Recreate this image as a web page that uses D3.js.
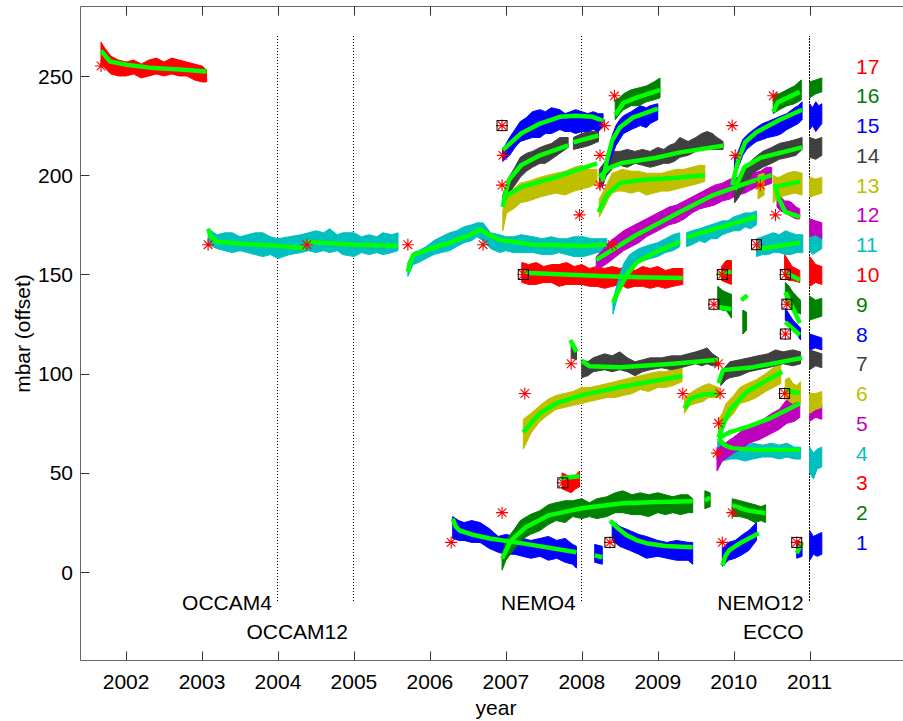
<!DOCTYPE html>
<html><head><meta charset="utf-8">
<script src="https://cdn.jsdelivr.net/npm/d3@7"></script>
<style>
html,body{margin:0;padding:0;background:#fff;}
svg text{font-family:"Liberation Sans",Arial,Helvetica,sans-serif;}
</style></head>
<body><svg id="c" width="903" height="721"></svg>
<script>
// ---------------- data ----------------
const years = [2002,2003,2004,2005,2006,2007,2008,2009,2010,2011];
const yTicks = [0,50,100,150,200,250];
const seriesNums = [1,2,3,4,5,6,7,8,9,10,11,12,13,14,15,16,17];
const seriesColors = ["#0000ff","#008000","#ff0000","#00bfbf","#bf00bf","#bfbf00","#404040"];
const models = ["OCCAM4","OCCAM12","NEMO4","NEMO12","ECCO"];
const modelYears = [2004,2005,2008,2011,2011];
const modelRows = [0,1,0,0,1];

// traces: segments of [year, low, high]
const trace1 = [
 [[2006.3,17,28],[2006.38,16,26],[2006.45,16,25],[2006.55,15,26],[2006.66,15,25],[2006.78,12,22],[2006.9,10,18],[2007.0,9,19],[2007.12,9,18],[2007.22,8,17],[2007.33,7,16],[2007.45,8,17],[2007.56,6,18],[2007.67,7,16],[2007.78,5,17],[2007.88,4,14],[2007.93,2,13]],
 [[2008.17,5,14],[2008.27,4,13]],
 [[2008.4,16,26],[2008.5,13,23],[2008.63,11,21],[2008.75,9,19],[2008.85,7,18],[2009.0,8,16],[2009.12,7,15],[2009.25,6,16],[2009.4,6,15],[2009.46,4,15]],
 [[2009.85,3,12],[2009.93,6,15],[2010.02,7,16],[2010.12,9,19],[2010.2,11,21],[2010.3,16,25]],
 [[2010.83,7,16],[2010.9,8,15]],
 [[2011.0,6,21],[2011.05,9,18],[2011.1,8,19],[2011.16,9,20]]
];
const trace2 = [
 [[2006.95,1,8],[2007.0,6,16],[2007.1,11,21],[2007.19,16,26],[2007.32,19,29],[2007.45,21,31],[2007.56,24,34],[2007.66,26,35],[2007.78,25,36],[2007.88,28,36],[2008.0,27,37],[2008.1,28,35],[2008.2,27,37],[2008.33,28,38],[2008.44,30,40],[2008.54,30,41],[2008.66,29,39],[2008.77,29,40],[2008.88,28,39],[2009.0,30,40],[2009.1,29,39],[2009.2,30,38],[2009.3,29,39],[2009.4,30,39],[2009.46,30,37]],
 [[2009.62,32,41],[2009.69,33,40]],
 [[2009.98,28,37],[2010.08,28,36],[2010.18,27,35],[2010.28,25,34],[2010.36,26,33],[2010.42,25,34]]
];
const trace3 = [
 [[2007.74,42,50],[2007.8,41,49],[2007.86,40,48],[2007.92,42,49],[2007.97,43,51]]
];
const trace4 = [
 [[2009.79,55,66],[2009.85,56,65],[2009.95,57,64],[2010.05,57,63],[2010.15,56,64],[2010.25,57,65],[2010.38,58,64],[2010.5,58,65],[2010.6,57,64],[2010.7,58,65],[2010.8,57,63],[2010.88,57,63]],
 [[2011.0,50,63],[2011.05,47,60],[2011.1,52,62],[2011.16,53,63]]
];
const trace5 = [
 [[2009.78,51,62],[2009.85,56,64],[2010.0,60,68],[2010.1,62,71],[2010.2,65,73],[2010.35,67,76],[2010.5,70,80],[2010.6,72,82],[2010.7,75,87],[2010.8,76,86],[2010.87,78,88]],
 [[2011.0,76,84],[2011.08,78,85],[2011.16,77,84]]
];
const trace6 = [
 [[2007.23,62,77],[2007.33,70,80],[2007.45,76,84],[2007.55,79,87],[2007.66,82,89],[2007.77,83,90],[2007.88,84,91],[2008.0,85,93],[2008.1,86,93],[2008.22,87,94],[2008.33,88,95],[2008.44,88,96],[2008.54,89,97],[2008.66,90,98],[2008.77,92,99],[2008.88,91,100],[2009.0,93,101],[2009.1,93,101],[2009.2,94,102],[2009.32,96,103]],
 [[2009.35,80,88],[2009.42,84,90],[2009.5,85,92],[2009.6,86,94],[2009.67,88,95],[2009.8,88,93]],
 [[2009.8,67,77],[2009.85,72,80],[2009.9,76,85],[2010.0,80,89],[2010.08,85,93],[2010.18,86,95],[2010.3,88,97],[2010.42,91,100],[2010.52,93,103],[2010.62,95,105]],
 [[2010.68,88,97],[2010.73,86,98],[2010.78,85,95],[2010.83,86,94],[2010.88,85,96]],
 [[2011.0,80,90],[2011.08,82,90],[2011.16,83,91]]
];
const trace7 = [
 [[2007.86,108,117],[2007.93,107,113]],
 [[2008.0,98,107],[2008.08,99,106],[2008.15,101,108],[2008.3,102,110],[2008.4,101,109],[2008.5,102,111],[2008.6,101,108],[2008.7,99,106],[2008.8,101,107],[2008.9,102,108],[2009.05,103,108],[2009.18,102,109],[2009.3,103,109],[2009.4,104,110],[2009.5,105,111],[2009.58,104,112],[2009.65,105,113],[2009.72,104,110],[2009.8,104,108]],
 [[2009.83,94,100],[2009.9,97,104],[2009.95,98,106],[2010.08,99,107],[2010.2,101,108],[2010.32,102,109],[2010.45,103,110],[2010.55,104,112],[2010.65,105,111],[2010.78,104,112],[2010.88,105,111]],
 [[2011.0,102,112],[2011.08,104,111],[2011.16,103,110]]
];
const trace8 = [
 [[2010.68,127,133],[2010.73,124,130],[2010.78,122,127],[2010.83,120,125],[2010.88,117,123]],
 [[2011.0,112,120],[2011.08,113,119],[2011.16,112,118]]
];
const trace9 = [
 [[2009.79,133,144],[2009.85,132,142],[2009.9,132,141],[2009.97,128,140]],
 [[2010.12,120,132],[2010.17,122,131]],
 [[2010.68,137,146],[2010.73,134,144],[2010.78,132,141],[2010.83,131,139],[2010.88,130,137]],
 [[2011.0,127,139],[2011.08,128,137],[2011.16,129,138]]
];
const trace10 = [
 [[2007.21,146,156],[2007.3,145,155],[2007.4,145,156],[2007.5,146,154],[2007.6,146,155],[2007.7,144,155],[2007.8,145,156],[2007.9,145,154],[2008.0,145,155],[2008.1,144,153],[2008.2,144,154],[2008.3,143,153],[2008.4,144,154],[2008.5,145,153],[2008.6,143,154],[2008.7,144,152],[2008.8,144,154],[2008.9,143,153],[2009.0,144,154],[2009.1,143,152],[2009.2,144,153],[2009.33,145,153]],
 [[2009.84,147,154],[2009.9,146,157],[2009.97,145,157]],
 [[2010.67,149,160],[2010.72,147,157],[2010.77,147,154],[2010.87,146,152]],
 [[2011.0,144,159],[2011.08,146,155],[2011.16,145,154]]
];
const trace11 = [
 [[2003.08,165,173],[2003.2,163,170],[2003.3,162,171],[2003.4,161,171],[2003.5,162,169],[2003.6,161,170],[2003.7,160,171],[2003.8,159,171],[2003.9,160,169],[2004.0,158,168],[2004.15,160,169],[2004.3,161,170],[2004.4,162,171],[2004.5,161,172],[2004.6,162,171],[2004.68,161,173],[2004.78,162,170],[2004.85,160,171],[2005.0,159,171],[2005.1,161,169],[2005.2,160,170],[2005.3,161,169],[2005.38,160,171],[2005.5,161,170],[2005.58,162,171]],
 [[2005.71,149,156],[2005.78,155,161],[2005.85,156,162],[2005.95,158,164],[2006.05,160,167],[2006.15,161,169],[2006.26,162,171],[2006.35,164,172],[2006.45,166,174],[2006.55,167,175],[2006.62,169,176],[2006.7,167,176],[2006.8,163,171],[2006.92,161,170],[2007.0,162,169],[2007.1,161,169],[2007.2,161,170],[2007.36,161,169],[2007.48,160,168],[2007.6,160,169],[2007.7,161,168],[2007.8,160,168],[2007.9,159,169],[2008.02,159,169],[2008.12,160,168],[2008.2,161,168],[2008.33,161,168]],
 [[2008.41,130,137],[2008.5,143,150],[2008.56,149,156],[2008.63,153,160],[2008.75,156,163],[2008.9,158,165],[2009.0,159,166],[2009.1,161,168],[2009.2,162,170],[2009.29,164,171]],
 [[2009.38,164,171],[2009.45,165,172],[2009.55,167,173],[2009.62,166,174],[2009.7,168,175],[2009.78,168,176],[2009.85,170,177],[2009.92,171,177],[2010.0,172,179],[2010.08,172,180],[2010.15,174,181],[2010.22,173,181],[2010.3,175,182]],
 [[2010.3,159,168],[2010.38,160,169],[2010.45,160,170],[2010.52,161,171],[2010.6,161,170],[2010.68,160,172],[2010.75,160,171],[2010.83,161,170],[2010.91,161,170]],
 [[2011.0,162,171],[2011.04,160,170],[2011.08,161,170],[2011.12,162,172],[2011.16,163,171]]
];
const trace12 = [
 [[2008.19,153,159],[2008.27,154,162],[2008.35,156,166],[2008.45,159,169],[2008.55,162,172],[2008.65,164,174],[2008.75,166,176],[2008.85,169,178],[2008.95,171,180],[2009.05,173,182],[2009.15,175,184],[2009.25,176,185],[2009.35,178,187],[2009.45,181,189],[2009.55,183,191],[2009.65,184,193],[2009.75,185,195],[2009.85,187,196],[2009.95,188,198],[2010.05,190,199],[2010.15,191,200],[2010.25,193,201],[2010.35,195,202],[2010.43,195,204],[2010.5,196,204]],
 [[2010.57,184,192],[2010.62,182,189],[2010.67,181,187],[2010.72,180,187],[2010.77,179,186],[2010.82,178,184],[2010.87,178,183]],
 [[2011.0,169,178],[2011.08,170,177],[2011.16,168,176]]
];
const trace13 = [
 [[2006.96,172,182],[2007.01,181,191],[2007.1,183,193],[2007.19,186,196],[2007.3,187,197],[2007.45,189,199],[2007.55,190,200],[2007.66,191,201],[2007.78,190,202],[2007.9,192,204],[2008.0,193,205],[2008.1,194,203],[2008.2,196,203]],
 [[2008.23,179,188],[2008.3,184,193],[2008.35,188,197],[2008.4,191,201],[2008.47,192,202],[2008.53,192,203],[2008.65,191,202],[2008.75,192,202],[2008.85,190,201],[2008.95,191,201],[2009.05,192,201],[2009.15,192,202],[2009.25,193,203],[2009.35,194,203],[2009.45,195,204],[2009.55,196,205],[2009.62,197,205]],
 [[2010.32,188,200],[2010.4,190,201]],
 [[2010.52,186,200],[2010.56,188,199],[2010.6,189,199],[2010.7,190,201],[2010.8,191,202],[2010.9,190,201]],
 [[2011.0,189,199],[2011.08,190,198],[2011.16,191,199]]
];
const trace14 = [
 [[2006.96,184,190],[2007.04,191,199],[2007.12,195,204],[2007.19,199,209],[2007.27,202,211],[2007.35,204,212],[2007.45,206,214],[2007.52,206,215],[2007.6,208,216],[2007.71,211,219],[2007.82,214,219]],
 [[2007.89,213,219],[2008.0,214,221],[2008.1,215,222],[2008.22,217,222]],
 [[2008.23,193,203],[2008.33,200,208],[2008.42,204,212],[2008.5,205,212],[2008.6,204,213],[2008.7,206,212],[2008.8,205,213],[2008.9,204,212],[2009.0,205,214],[2009.08,206,213],[2009.15,206,215],[2009.22,207,216],[2009.29,209,219],[2009.4,210,217],[2009.5,212,219],[2009.58,213,221],[2009.65,214,222],[2009.72,213,221],[2009.78,213,219],[2009.86,213,217]],
 [[2010.01,186,193],[2010.05,188,196],[2010.1,191,199],[2010.17,196,204],[2010.25,201,208],[2010.38,204,212],[2010.5,206,214],[2010.6,208,216],[2010.72,209,217],[2010.82,210,218],[2010.9,213,219]],
 [[2011.0,209,219],[2011.08,208,218],[2011.16,210,219]]
];
const trace15 = [
 [[2006.96,207,213],[2007.05,210,219],[2007.12,214,223],[2007.19,217,227],[2007.27,218,229],[2007.35,219,232],[2007.45,219,233],[2007.52,221,232],[2007.6,221,234],[2007.71,223,233],[2007.78,222,231],[2007.85,222,232],[2007.92,221,233],[2008.0,222,232],[2008.08,222,231],[2008.15,223,232],[2008.22,222,231],[2008.28,225,231]],
 [[2008.27,194,203],[2008.32,200,208],[2008.36,206,214],[2008.4,210,220],[2008.45,215,225],[2008.5,218,228],[2008.55,221,230],[2008.65,223,232],[2008.77,225,235],[2008.85,224,234],[2008.9,226,235],[2009.0,228,236]],
 [[2010.01,201,209],[2010.05,203,211],[2010.08,206,214],[2010.12,210,218],[2010.17,213,220],[2010.23,215,222],[2010.3,217,224],[2010.38,218,226],[2010.45,219,227],[2010.57,220,229],[2010.63,221,230],[2010.7,223,231],[2010.8,225,234],[2010.85,226,235],[2010.9,228,237]],
 [[2011.0,223,236],[2011.04,225,234],[2011.08,222,237],[2011.12,224,235],[2011.16,226,236]]
];
const trace16 = [
 [[2008.44,228,238],[2008.5,231,239],[2008.55,233,241],[2008.65,235,243],[2008.75,235,244],[2008.85,237,245],[2008.95,238,247],[2009.03,239,249]],
 [[2010.52,231,240],[2010.56,232,241],[2010.6,233,241],[2010.7,235,243],[2010.8,236,245],[2010.89,238,248]],
 [[2011.0,239,247],[2011.08,241,248],[2011.16,242,249]]
];
const trace17 = [
 [[2001.67,256,267],[2001.72,254,264],[2001.8,251,260],[2001.9,250,258],[2002.0,250,257],[2002.1,251,258],[2002.2,249,256],[2002.3,250,258],[2002.4,251,259],[2002.5,250,257],[2002.6,251,259],[2002.7,250,258],[2002.8,250,257],[2002.9,248,256],[2003.0,247,255],[2003.06,247,253]]
];

// fitted curves: segments of [year, value]
const fit1 = [
 [[2006.3,27],[2006.34,23],[2006.39,21],[2006.55,19],[2006.79,17],[2007.22,14.5],[2007.93,10]],
 [[2008.17,8.5],[2008.27,7.5]],
 [[2008.37,26],[2008.48,22],[2008.59,18.6],[2008.72,16.2],[2008.85,14.6],[2009.1,13.2],[2009.46,12.5]],
 [[2009.85,3.4],[2009.89,8],[2009.94,11],[2010.1,15],[2010.33,19.6]],
 [[2010.83,9.5],[2010.9,15]]
];
const fit2 = [
 [[2006.95,6.9],[2007.07,16],[2007.26,22.6],[2007.56,28.6],[2008.0,32.2],[2008.54,34.7],[2009.0,35.3],[2009.46,35.7]],
 [[2009.62,36],[2009.69,37.7]],
 [[2009.98,33.7],[2010.18,31.2],[2010.42,29.7]]
];
const fit3 = [[[2007.72,47.3],[2007.97,48.3]]];
const fit4 = [[[2009.8,67.5],[2009.88,64],[2009.98,62.5],[2010.3,61.5],[2010.87,61.5]]];
const fit5 = [[[2009.8,67.5],[2009.95,70.6],[2010.2,73.5],[2010.48,77.5],[2010.87,85]]];
const fit6 = [
 [[2007.23,70.5],[2007.35,76],[2007.45,80],[2007.66,85],[2008.0,89.2],[2008.5,93.3],[2009.32,98.8]],
 [[2009.35,82.6],[2009.44,87.7],[2009.6,89.5],[2009.82,90]],
 [[2009.8,68],[2009.88,76],[2009.95,81.6],[2010.17,90.8],[2010.4,96],[2010.64,101]],
 [[2010.67,91.7],[2010.87,90.2]]
];
const fit7 = [
 [[2007.85,117],[2007.93,111]],
 [[2008.0,106.5],[2008.1,103.8],[2008.5,103.2],[2009.2,105],[2009.8,107]],
 [[2009.8,95.3],[2009.86,101.8],[2010.25,103.3],[2010.9,107.9]]
];
const fit8 = [[[2010.68,126],[2010.87,119.5]]];
const fit9 = [
 [[2009.8,133.6],[2009.97,132.5]],
 [[2010.1,137],[2010.18,139.5]],
 [[2010.68,141],[2010.87,125.5]]
];
const fit10 = [
 [[2007.23,150.8],[2008.24,149.2],[2008.75,148.6],[2009.33,148.2]],
 [[2009.8,150],[2009.97,151.4]],
 [[2010.67,151.3],[2010.87,147.2]]
];
const fit11 = [
 [[2003.08,173],[2003.12,169],[2003.19,166.5],[2003.5,165.5],[2004.0,164.4],[2004.36,163.2]],
 [[2004.36,166.5],[2005.0,165],[2005.58,164.4]],
 [[2005.71,151.3],[2005.74,156],[2005.78,159.8],[2005.96,162.4],[2006.26,166],[2006.5,169.5],[2006.66,172.6],[2006.8,169.5],[2006.92,167.4],[2007.36,165],[2008.02,164.4],[2008.33,165]],
 [[2008.41,136],[2008.5,143],[2008.59,149.6],[2008.72,156],[2008.98,161.4],[2009.29,166.5]],
 [[2009.38,168.8],[2009.8,173.5],[2010.3,179]],
 [[2010.32,162.8],[2010.87,166]]
];
const fit12 = [
 [[2008.19,157.3],[2008.7,169.5],[2009.29,181.5],[2009.73,190],[2010.17,196],[2010.5,200]],
 [[2010.55,194],[2010.6,187.6],[2010.68,181.5],[2010.87,179]]
];
const fit13 = [
 [[2006.96,188.6],[2007.2,194],[2007.66,199],[2008.2,206]],
 [[2008.22,181.4],[2008.33,190],[2008.5,196],[2008.77,197.6],[2009.2,198.6],[2009.62,200]],
 [[2010.52,194],[2010.87,196.7]]
];
const fit14 = [
 [[2006.96,184],[2007.0,192],[2007.04,197.6],[2007.2,205],[2007.45,210],[2007.82,215]],
 [[2007.89,216.6],[2008.22,220]],
 [[2008.23,199],[2008.36,203.7],[2008.53,206.2],[2008.98,208.8],[2009.29,211.5],[2009.86,214.8]],
 [[2010.01,192.6],[2010.14,204],[2010.35,208.8],[2010.9,214]]
];
const fit15 = [
 [[2006.96,212.7],[2007.2,221],[2007.45,226],[2007.71,229.4],[2007.92,230],[2008.14,229.4],[2008.28,227.5]],
 [[2008.27,196.6],[2008.34,209],[2008.4,217.5],[2008.5,224],[2008.67,229],[2009.0,233.5]],
 [[2009.98,195],[2010.06,207.7],[2010.15,216.6],[2010.3,221.7],[2010.6,227.8],[2010.9,233]]
];
const fit16 = [
 [[2008.44,230.4],[2008.55,236.5],[2008.75,239.5],[2009.03,243]],
 [[2010.52,232],[2010.58,236.7],[2010.87,242]]
];
const fit17 = [[[2001.67,262.7],[2001.79,257.3],[2002.0,255.7],[2002.31,254.2],[2002.71,253.2],[2003.06,252.2]]];

// markers: [year, value]
const asterisks = [[2001.67,255],[2003.08,165],[2004.38,165],[2005.71,165],[2006.7,165],[2006.28,15],[2006.95,30],[2006.96,210],[2006.95,195],[2007.25,90],[2007.86,105],[2007.97,180],[2008.3,225],[2008.24,210],[2008.24,195],[2008.4,165],[2008.43,240],[2009.33,90],[2009.8,105],[2009.82,90],[2009.8,75],[2009.78,60],[2009.98,30],[2009.85,15],[2009.98,225],[2010.02,210],[2010.35,195],[2010.55,180],[2010.52,240]];
const squares = [[2006.95,225],[2007.23,150],[2007.75,45],[2008.37,15],[2009.85,150],[2009.74,135],[2010.3,165],[2010.68,150],[2010.7,135],[2010.68,120],[2010.67,90],[2010.83,15]];

const traces = [trace1,trace2,trace3,trace4,trace5,trace6,trace7,trace8,trace9,trace10,trace11,trace12,trace13,trace14,trace15,trace16,trace17];
const fits = [fit1,fit2,fit3,fit4,fit5,fit6,fit7,fit8,fit9,fit10,fit11,fit12,fit13,fit14,fit15,fit16,fit17];
const labelYear = 2011.61, offsetStep = 15;

// ---------------- drawing ----------------
const svg = d3.select("#c");
const L = 80.5, T = 6.5, B = 660.5, R = 916;
const x = d3.scaleLinear().domain([2001.4, 2012.4]).range([L, R]);
const y = d3.scaleLinear().domain([-44.5, 285]).range([B, T]);
const FS = 21;
const col = k => seriesColors[(k-1) % 7];

svg.append("defs").append("clipPath").attr("id","clip")
  .append("rect").attr("x",L).attr("y",T).attr("width",R-L).attr("height",B-T);
const plot = svg.append("g").attr("clip-path","url(#clip)");

// model dotted lines
modelYears.forEach((yr,i)=>{
  plot.append("line").attr("x1",x(yr)).attr("x2",x(yr)).attr("y1",y(270)).attr("y2",y(-15))
    .attr("stroke","#000").attr("stroke-width",1).attr("stroke-dasharray","1,2")
    .attr("stroke-dashoffset", i===4 ? 1.5 : 0).attr("shape-rendering","crispEdges");
  svg.append("text").attr("x",x(yr)-6).attr("y",y(modelRows[i]===0?-15:-30)+FS*0.36)
    .attr("text-anchor","end").attr("font-size",FS).attr("fill","#000").text(models[i]);
});

const area = d3.area().x(d=>x(d[0])).y0(d=>y(d[1])).y1(d=>y(d[2]));
const line = d3.line().x(d=>x(d[0])).y(d=>y(d[1]));

traces.forEach((segs,i)=>{
  const c = col(i+1);
  segs.forEach(s=>{
    plot.append("path").attr("d",area(s)).attr("fill",c).attr("stroke",c).attr("stroke-width",1).attr("stroke-linejoin","bevel");
  });
});
fits.forEach(segs=>{
  segs.forEach(s=>{
    plot.append("path").attr("d",line(s)).attr("fill","none").attr("stroke","#00ff00")
      .attr("stroke-width",4.5).attr("stroke-linecap","butt").attr("stroke-linejoin","round");
  });
});

function star(g, px, py){
  const r = 6, d = r*0.72;
  const p = `M${px-r},${py}L${px+r},${py}M${px},${py-r}L${px},${py+r}M${px-d},${py-d}L${px+d},${py+d}M${px-d},${py+d}L${px+d},${py-d}`;
  g.append("path").attr("d",p).attr("stroke","#ff0000").attr("stroke-width",1.1).attr("fill","none");
}
asterisks.forEach(a=>star(plot, x(a[0]), y(a[1])));
squares.forEach(a=>{
  star(plot, x(a[0]), y(a[1]));
  plot.append("rect").attr("x",x(a[0])-5).attr("y",y(a[1])-5).attr("width",10).attr("height",10)
    .attr("fill","none").attr("stroke","#000").attr("stroke-width",1);
});

// series number labels
seriesNums.forEach(k=>{
  plot.append("text").attr("x",x(labelYear)).attr("y",y(k*offsetStep)+FS*0.36)
    .attr("font-size",FS).attr("fill",col(k)).text(k);
});

// axes box
const ax = svg.append("g");
ax.append("path").attr("d",`M${R+5},${T}H${L}V${B}H${R+5}`).attr("fill","none").attr("stroke","#666").attr("stroke-width",1);
years.forEach(yr=>{
  const px = Math.round(x(yr))+0.5;
  ax.append("line").attr("x1",px).attr("x2",px).attr("y1",B).attr("y2",B-9).attr("stroke","#333");
  ax.append("line").attr("x1",px).attr("x2",px).attr("y1",T).attr("y2",T+9).attr("stroke","#333");
  ax.append("text").attr("x",x(yr)).attr("y",689).attr("text-anchor","middle").attr("font-size",FS).text(yr);
});
yTicks.forEach(v=>{
  const py = Math.round(y(v))+0.5;
  ax.append("line").attr("x1",L).attr("x2",L+9).attr("y1",py).attr("y2",py).attr("stroke","#333");
  ax.append("text").attr("x",73).attr("y",y(v)+FS*0.36).attr("text-anchor","end").attr("font-size",FS).text(v);
});
svg.append("text").attr("x",496).attr("y",715).attr("text-anchor","middle").attr("font-size",FS).text("year");
svg.append("text").attr("transform",`translate(30,${(T+B)/2}) rotate(-90)`).attr("text-anchor","middle").attr("font-size",FS).text("mbar (offset)");
</script></body></html>
